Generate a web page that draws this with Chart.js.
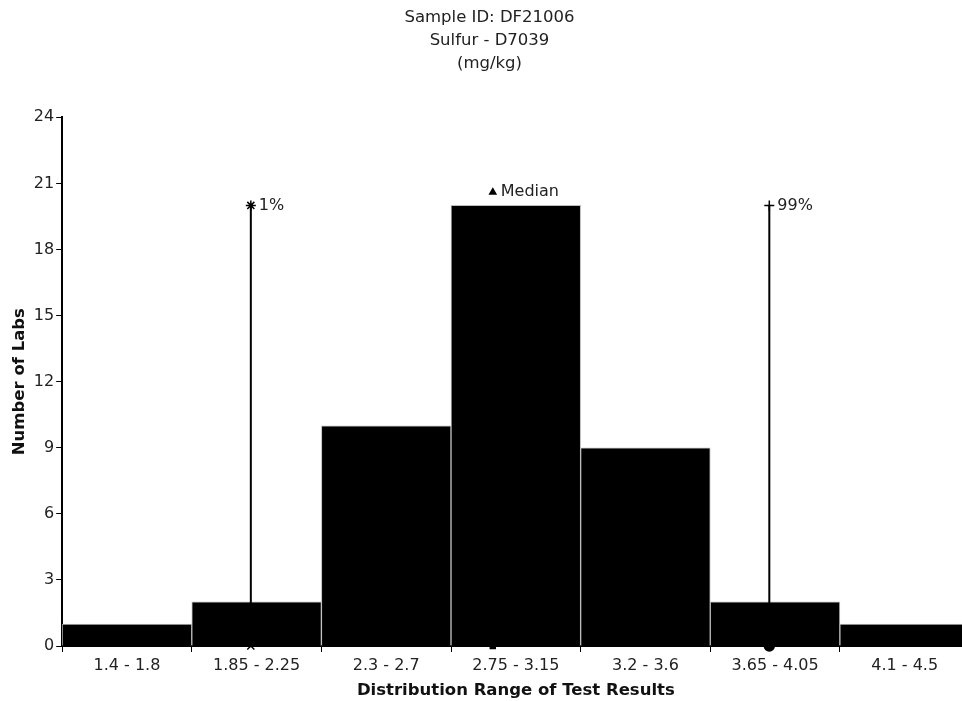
<!DOCTYPE html>
<html>
<head>
<meta charset="utf-8">
<script src="https://cdn.jsdelivr.net/npm/chart.js@4"></script>
<style>
    html, body { margin: 0; padding: 0; background: #fff; overflow: hidden; }
    #wrap { width: 976px; height: 701px; }
</style>
</head>
<body>
<div id="wrap"><canvas id="histChart"></canvas></div>
<script>
// Histogram data
const binLabels = ['1.4 - 1.8', '1.85 - 2.25', '2.3 - 2.7', '2.75 - 3.15', '3.2 - 3.6', '3.65 - 4.05', '4.1 - 4.5'];
const labCounts = [1, 2, 10, 20, 9, 2, 1];
const yTicks = [0, 3, 6, 9, 12, 15, 18, 21, 24];

// Marker positions (test result units) and their heights
const markerNames = ['1%', 'Median', '99%'];
const markerValues = [2.03, 2.87, 3.83];
const markerTops = [20, 20.6, 20];

// bins are 0.45 wide, first bin centred on 1.6
const binPos = (v) => (v - 1.6) / 0.45;

const font = "'DejaVu Sans', Verdana, sans-serif";

function lineSet(i, bottomStyle, topStyle, showLine, radius) {
    const x = binPos(markerValues[i]);
    return {
        type: 'line',
        label: markerNames[i],
        xAxisID: 'x2',
        order: 0,
        clip: false,
        data: [{ x: x, y: 0 }, { x: x, y: markerTops[i] }],
        borderColor: '#000',
        backgroundColor: '#000',
        borderWidth: 2,
        showLine: showLine,
        pointStyle: [bottomStyle, topStyle],
        pointRadius: radius,
        pointBorderWidth: 1.5,
        pointBorderColor: '#000',
        pointBackgroundColor: '#000'
    };
}

// text next to the top marker of each line
const markerText = {
    id: 'markerText',
    afterDatasetsDraw(chart) {
        const ctx = chart.ctx;
        const xs = chart.scales.x2;
        const ys = chart.scales.y;
        ctx.save();
        ctx.font = '16px ' + font;
        ctx.fillStyle = '#222';
        ctx.textBaseline = 'middle';
        markerNames.forEach((name, i) => {
            ctx.fillText(name, xs.getPixelForValue(binPos(markerValues[i])) + 8, ys.getPixelForValue(markerTops[i]));
        });
        ctx.restore();
    }
};

const ctx = document.getElementById('histChart').getContext('2d');
new Chart(ctx, {
    type: 'bar',
    data: {
        labels: binLabels,
        datasets: [
            {
                label: 'Number of Labs',
                data: labCounts,
                order: 1,
                backgroundColor: '#000',
                borderColor: '#bdbdbd',
                borderWidth: 1,
                barPercentage: 1,
                categoryPercentage: 1,
                grouped: false
            },
            lineSet(0, 'crossRot', 'star', true, 5),
            lineSet(1, 'rect', 'triangle', false, 3.5),
            lineSet(2, 'circle', 'cross', true, 5)
        ]
    },
    options: {
        responsive: true,
        maintainAspectRatio: false,
        animation: false,
        layout: { padding: { left: 6, right: 3, top: 4, bottom: 0 } },
        plugins: {
            legend: { display: false },
            tooltip: { enabled: false },
            title: {
                display: true,
                text: ['Sample ID: DF21006', 'Sulfur - D7039', '(mg/kg)'],
                color: '#222',
                font: { family: font, size: 16.5, weight: 'normal', lineHeight: 1.4 },
                padding: { top: 2, bottom: 42 }
            }
        },
        scales: {
            x: {
                offset: true,
                grid: { display: true, drawOnChartArea: false, drawTicks: true, tickLength: 6, color: '#000', offset: true },
                border: { display: true, color: '#000', width: 2 },
                ticks: { color: '#222', font: { family: font, size: 16 }, maxRotation: 0, autoSkip: false, padding: 4 },
                title: { display: true, text: 'Distribution Range of Test Results', color: '#111', font: { family: font, size: 16.5, weight: 'bold' }, padding: { top: 2, bottom: 0 } }
            },
            x2: {
                type: 'linear',
                display: false,
                offset: false,
                min: -0.5,
                max: 6.5
            },
            y: {
                min: 0,
                max: 24,
                afterBuildTicks: (scale) => { scale.ticks = yTicks.map(v => ({ value: v })); },
                grid: { display: true, drawOnChartArea: false, drawTicks: true, tickLength: 6, color: '#000' },
                border: { display: true, color: '#000', width: 2 },
                ticks: { color: '#222', font: { family: font, size: 16 }, padding: 2 },
                title: { display: true, text: 'Number of Labs', color: '#111', font: { family: font, size: 16.5, weight: 'bold' }, padding: { bottom: 2 } }
            }
        }
    },
    plugins: [markerText]
});
</script>
</body>
</html>
